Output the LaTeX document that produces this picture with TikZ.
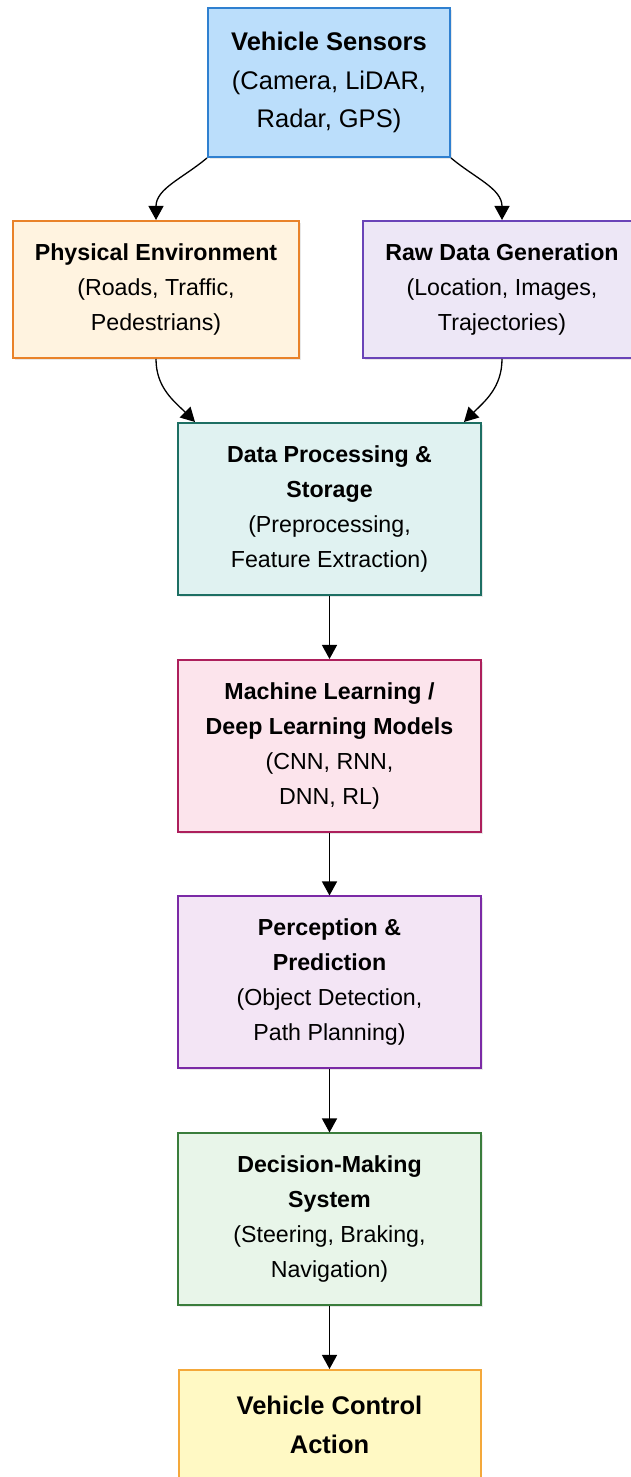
\documentclass[tikz,border=0pt]{standalone}
\usepackage{fontspec}
\setmainfont{Liberation Sans}
\usetikzlibrary{arrows.meta,shadows}

\definecolor{sensline}{HTML}{2F80D0}
\definecolor{sensfill}{HTML}{BBDEFB}
\definecolor{physline}{HTML}{E9822A}
\definecolor{physfill}{HTML}{FFF3E0}
\definecolor{rawline}{HTML}{6A44B8}
\definecolor{rawfill}{HTML}{EDE7F6}
\definecolor{procline}{HTML}{1D6F63}
\definecolor{procfill}{HTML}{E0F2F1}
\definecolor{mlline}{HTML}{AD1F5C}
\definecolor{mlfill}{HTML}{FCE4EC}
\definecolor{percline}{HTML}{7B2AA6}
\definecolor{percfill}{HTML}{F3E5F5}
\definecolor{decline}{HTML}{3A7D3C}
\definecolor{decfill}{HTML}{E8F5E9}
\definecolor{ctrlline}{HTML}{F4A83A}
\definecolor{ctrlfill}{HTML}{FFF9C4}

\begin{document}
\begin{tikzpicture}
	[x=1pt,y=1pt,
	 box/.style 2 args={rectangle,draw=#1,fill=#2,line width=2pt,inner sep=0pt,
	   align=center,font=\fontsize{23.2}{35}\selectfont,
	   drop shadow={opacity=0.18,shadow xshift=1.5pt,shadow yshift=-2pt}},
	 bigtext/.style={font=\fontsize{25.5}{38.5}\selectfont},
	 arrow/.style={-{Triangle[length=14pt,width=15pt]},line width=1.3pt,black}]

	\path [use as bounding box] (0,0) rectangle (630,1477);

	\node[box={sensline}{sensfill},bigtext,minimum width=242,minimum height=149]
		(sensors) at (329,1394.5) {\textbf{Vehicle Sensors}\\(Camera, LiDAR,\\Radar, GPS)};
	\node[box={physline}{physfill},minimum width=286,minimum height=137]
		(physical) at (156,1187.5) {\textbf{Physical Environment}\\(Roads, Traffic,\\Pedestrians)};
	\node[box={rawline}{rawfill},minimum width=278,minimum height=137]
		(rawdata) at (502,1187.5) {\textbf{Raw Data Generation}\\(Location, Images,\\Trajectories)};
	\node[box={procline}{procfill},minimum width=303,minimum height=172]
		(processing) at (329.5,968) {\textbf{Data Processing \&}\\\textbf{Storage}\\(Preprocessing,\\Feature Extraction)};
	\node[box={mlline}{mlfill},minimum width=303,minimum height=172]
		(learning) at (329.5,731) {\textbf{Machine Learning /}\\\textbf{Deep Learning Models}\\(CNN, RNN,\\DNN, RL)};
	\node[box={percline}{percfill},minimum width=303,minimum height=172]
		(perception) at (329.5,494.5) {\textbf{Perception \&}\\\textbf{Prediction}\\(Object Detection,\\Path Planning)};
	\node[box={decline}{decfill},minimum width=303,minimum height=172]
		(decision) at (329.5,257.5) {\textbf{Decision-Making}\\\textbf{System}\\(Steering, Braking,\\Navigation)};
	\node[box={ctrlline}{ctrlfill},bigtext,minimum width=302,minimum height=110]
		(control) at (329.5,52) {\textbf{Vehicle Control}\\\textbf{Action}};

	\draw[arrow] (sensors.south west) to [out=220,in=90] (physical.north);
	\draw[arrow] (sensors.south east) to [out=-40,in=90] (rawdata.north);
	\draw[arrow] (physical.south) to [out=-90,in=135] ([xshift=18pt]processing.north west);
	\draw[arrow] (rawdata.south)  to [out=-90,in=45]  ([xshift=-18pt]processing.north east);

	\draw[arrow] (processing) -- (learning);
	\draw[arrow] (learning)   -- (perception);
	\draw[arrow] (perception) -- (decision);
	\draw[arrow] (decision)   -- (control);
\end{tikzpicture}
\end{document}
